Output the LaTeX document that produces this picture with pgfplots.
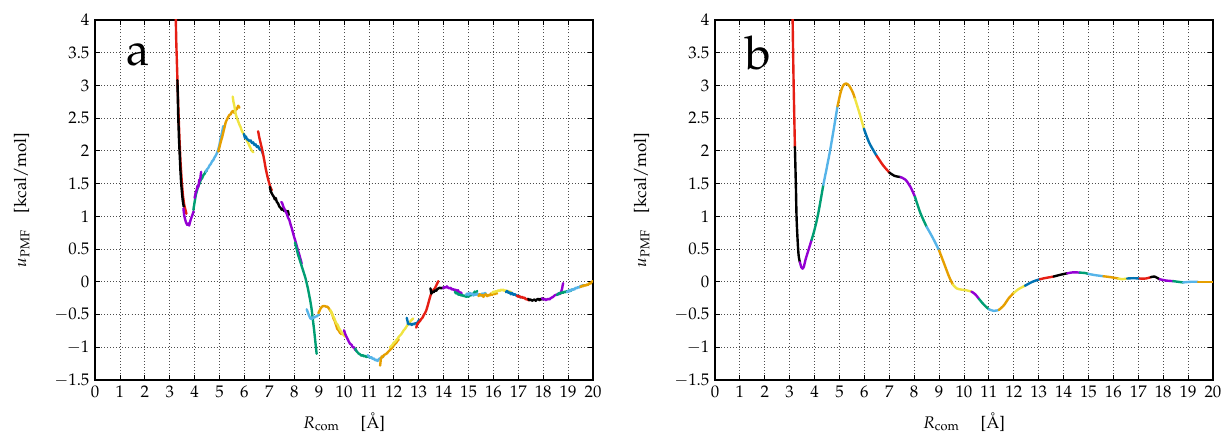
\documentclass[border=0pt]{standalone}
\usepackage[T1]{fontenc}
\usepackage{mathpazo}
\usepackage{pgfplots}
\pgfplotsset{compat=1.18}
\definecolor{cR}{RGB}{230,30,20}
\definecolor{cK}{RGB}{0,0,0}
\definecolor{cP}{RGB}{148,0,211}
\definecolor{cG}{RGB}{0,158,115}
\definecolor{cS}{RGB}{86,180,233}
\definecolor{cO}{RGB}{230,159,0}
\definecolor{cY}{RGB}{240,228,66}
\definecolor{cB}{RGB}{0,114,178}
\pgfplotsset{
  panel/.style={
    width=311.25pt, height=225pt, scale only axis,
    xmin=0, xmax=20, ymin=-1.5, ymax=4,
    xtick={0,1,2,3,4,5,6,7,8,9,10,11,12,13,14,15,16,17,18,19,20},
    ytick={-1.5,-1,-0.5,0,0.5,1,1.5,2,2.5,3,3.5,4},
    grid=major,
    grid style={black!70, line width=0.5pt, dash pattern=on 0.6pt off 1.3pt},
    tick align=inside, major tick length=3pt,
    axis line style={line width=0.9pt},
    every tick/.style={black, line width=0.5pt},
    tick label style={font=\fontsize{10.5}{12}\selectfont},
    label style={font=\fontsize{10.5}{12}\selectfont},
    xlabel={$R_{\mathrm{com}}$\quad\ [\AA]},
    ylabel={$u_{\mathrm{PMF}}$\quad [kcal/mol]},
    xlabel style={at={(axis description cs:0.5,-0.117)}, anchor=center},
    ylabel style={at={(axis description cs:-0.147,0.5)}, anchor=center},
    yticklabel style={/pgf/number format/.cd, fixed, precision=1},
    every axis plot/.append style={line width=1.5pt, mark=none, line join=round, line cap=round},
  }
}
\begin{document}
\begin{tikzpicture}
\path[use as bounding box] (-59.4pt,-35pt) rectangle (704.4pt,237.5pt);
% ---------------- panel a ----------------
\begin{axis}[panel, at={(0pt,0pt)}, anchor=south west]
\addplot[cR] coordinates {(3.22,4.5) (3.26,3.7) (3.31,3.08) (3.35,2.6) (3.39,2.2) (3.43,1.85) (3.48,1.55) (3.53,1.32) (3.58,1.18) (3.63,1.1) (3.67,1.04)};
\addplot[cK] coordinates {(3.31,3.08) (3.34,2.55) (3.37,2.2) (3.40,1.95) (3.43,1.7) (3.46,1.5) (3.49,1.37) (3.52,1.25) (3.56,1.15)};
\addplot[cP] coordinates {(3.55,1.12) (3.58,1.02) (3.62,0.95) (3.66,0.9) (3.7,0.87) (3.74,0.89) (3.78,0.86) (3.82,0.92) (3.87,0.98) (3.92,1.03) (3.96,1.08)};
\addplot[cG] coordinates {(3.95,1.1) (4.0,1.22) (4.05,1.33) (4.1,1.4) (4.15,1.47) (4.2,1.5) (4.25,1.56) (4.3,1.58) (4.35,1.63) (4.4,1.65) (4.45,1.69) (4.5,1.7)};
\addplot[cP] coordinates {(4.0,1.28) (4.04,1.36) (4.08,1.4) (4.12,1.47) (4.15,1.45) (4.19,1.56) (4.22,1.55) (4.26,1.68)};
\addplot[cS] coordinates {(4.45,1.68) (4.5,1.72) (4.55,1.74) (4.6,1.78) (4.65,1.8) (4.7,1.84) (4.75,1.86) (4.8,1.9) (4.85,1.93) (4.9,1.97) (4.95,2.02) (5.0,2.1) (5.05,2.2) (5.1,2.28) (5.15,2.38)};
\addplot[cO] coordinates {(4.95,1.99) (5.0,2.06) (5.05,2.14) (5.1,2.2) (5.15,2.28) (5.2,2.36) (5.25,2.44) (5.3,2.48) (5.35,2.52) (5.4,2.55) (5.45,2.56) (5.5,2.6) (5.55,2.61) (5.6,2.58) (5.65,2.63) (5.7,2.64) (5.75,2.69) (5.8,2.66)};
\addplot[cY] coordinates {(5.53,2.83) (5.56,2.75) (5.6,2.68) (5.63,2.6) (5.66,2.55) (5.7,2.5) (5.75,2.45) (5.8,2.4) (5.85,2.36) (5.9,2.3) (5.95,2.27) (6.0,2.24) (6.05,2.2) (6.1,2.16) (6.15,2.12) (6.2,2.08) (6.25,2.04) (6.3,2.0) (6.36,1.98)};
\addplot[cB] coordinates {(5.98,2.26) (6.02,2.2) (6.06,2.22) (6.1,2.18) (6.15,2.17) (6.2,2.15) (6.25,2.16) (6.3,2.12) (6.35,2.13) (6.4,2.09) (6.45,2.1) (6.5,2.06) (6.55,2.07) (6.6,2.03) (6.65,2.02) (6.7,2.0) (6.75,1.95)};
\addplot[cR] coordinates {(6.55,2.3) (6.6,2.2) (6.65,2.12) (6.7,2.04) (6.75,1.95) (6.8,1.85) (6.85,1.74) (6.9,1.65) (6.95,1.57) (7.0,1.5) (7.05,1.44) (7.1,1.4)};
\addplot[cK] coordinates {(7.02,1.45) (7.06,1.38) (7.1,1.35) (7.14,1.32) (7.18,1.3) (7.22,1.26) (7.26,1.28) (7.3,1.22) (7.35,1.2) (7.4,1.15) (7.45,1.13) (7.5,1.1) (7.55,1.12) (7.6,1.08) (7.65,1.09) (7.7,1.06) (7.75,1.08) (7.78,1.02)};
\addplot[cP] coordinates {(7.48,1.22) (7.52,1.2) (7.56,1.15) (7.6,1.12) (7.65,1.08) (7.7,1.04) (7.75,0.98) (7.8,0.95) (7.85,0.88) (7.9,0.82) (7.95,0.75) (8.0,0.68) (8.05,0.62) (8.1,0.55) (8.15,0.48) (8.2,0.42) (8.25,0.35) (8.3,0.28)};
\addplot[cG] coordinates {(8.03,0.6) (8.1,0.5) (8.15,0.42) (8.2,0.36) (8.25,0.3) (8.3,0.24) (8.35,0.18) (8.4,0.12) (8.45,0.06) (8.5,-0.02) (8.55,-0.1) (8.6,-0.2) (8.65,-0.3) (8.7,-0.42) (8.75,-0.58) (8.8,-0.74) (8.85,-0.92) (8.9,-1.1)};
\addplot[cS] coordinates {(8.5,-0.42) (8.55,-0.47) (8.6,-0.52) (8.65,-0.56) (8.7,-0.57) (8.75,-0.54) (8.8,-0.55) (8.85,-0.53) (8.9,-0.53) (8.95,-0.51) (9.0,-0.5)};
\addplot[cO] coordinates {(8.97,-0.48) (9.02,-0.44) (9.07,-0.4) (9.12,-0.38) (9.17,-0.37) (9.22,-0.37) (9.28,-0.38) (9.33,-0.38) (9.38,-0.4) (9.43,-0.43) (9.48,-0.46) (9.53,-0.5) (9.58,-0.56) (9.63,-0.6) (9.68,-0.66) (9.73,-0.72) (9.78,-0.74) (9.84,-0.78) (9.9,-0.8)};
\addplot[cY] coordinates {(9.45,-0.43) (9.5,-0.47) (9.55,-0.52) (9.6,-0.55) (9.65,-0.6) (9.7,-0.64) (9.75,-0.66) (9.8,-0.71) (9.85,-0.74) (9.9,-0.77) (9.95,-0.8) (10.0,-0.82) (10.05,-0.84)};
\addplot[cP] coordinates {(10.0,-0.74) (10.05,-0.8) (10.1,-0.84) (10.15,-0.88) (10.2,-0.92) (10.25,-0.95) (10.3,-0.96) (10.35,-1.0) (10.4,-1.0) (10.45,-1.04) (10.5,-1.05)};
\addplot[cG] coordinates {(10.45,-1.02) (10.5,-1.06) (10.55,-1.08) (10.6,-1.1) (10.65,-1.11) (10.7,-1.13) (10.75,-1.12) (10.8,-1.14) (10.85,-1.13) (10.9,-1.15) (10.95,-1.14) (11.0,-1.15) (11.05,-1.16)};
\addplot[cS] coordinates {(10.95,-1.12) (11.0,-1.14) (11.05,-1.16) (11.1,-1.15) (11.15,-1.18) (11.2,-1.17) (11.25,-1.2) (11.3,-1.19) (11.35,-1.21) (11.4,-1.18) (11.45,-1.17) (11.5,-1.16) (11.55,-1.15) (11.6,-1.13)};
\addplot[cO] coordinates {(11.45,-1.28) (11.48,-1.18) (11.52,-1.14) (11.56,-1.15) (11.6,-1.12) (11.65,-1.11) (11.7,-1.1) (11.75,-1.08) (11.8,-1.06) (11.85,-1.04) (11.9,-1.02) (11.95,-1.0) (12.0,-0.97) (12.05,-0.95) (12.1,-0.93) (12.15,-0.9) (12.2,-0.88)};
\addplot[cY] coordinates {(11.85,-1.0) (11.9,-0.98) (11.95,-0.96) (12.0,-0.93) (12.05,-0.92) (12.1,-0.89) (12.15,-0.87) (12.2,-0.84) (12.25,-0.82) (12.3,-0.8) (12.35,-0.77) (12.4,-0.74) (12.45,-0.72) (12.5,-0.69) (12.55,-0.66) (12.6,-0.64) (12.65,-0.61) (12.7,-0.59) (12.78,-0.56)};
\addplot[cB] coordinates {(12.52,-0.55) (12.55,-0.6) (12.57,-0.64) (12.62,-0.65) (12.67,-0.64) (12.72,-0.66) (12.77,-0.64) (12.82,-0.65) (12.87,-0.63) (12.92,-0.64) (12.97,-0.61) (13.02,-0.58)};
\addplot[cR] coordinates {(12.9,-0.7) (12.95,-0.64) (13.0,-0.62) (13.05,-0.6) (13.1,-0.57) (13.15,-0.55) (13.2,-0.51) (13.25,-0.48) (13.3,-0.44) (13.35,-0.38) (13.4,-0.31) (13.45,-0.24) (13.5,-0.18) (13.55,-0.15) (13.6,-0.12) (13.65,-0.1) (13.7,-0.06) (13.75,-0.02) (13.79,0.01)};
\addplot[cK] coordinates {(13.47,-0.1) (13.51,-0.18) (13.55,-0.15) (13.6,-0.16) (13.65,-0.13) (13.7,-0.14) (13.75,-0.11) (13.8,-0.1) (13.85,-0.09) (13.9,-0.1) (13.95,-0.09) (14.0,-0.1)};
\addplot[cP] coordinates {(13.98,-0.1) (14.03,-0.08) (14.08,-0.09) (14.13,-0.07) (14.18,-0.09) (14.23,-0.1) (14.28,-0.09) (14.33,-0.12) (14.38,-0.11) (14.43,-0.13) (14.48,-0.12) (14.53,-0.14) (14.58,-0.13) (14.63,-0.17) (14.68,-0.16) (14.73,-0.18)};
\addplot[cG] coordinates {(14.45,-0.15) (14.5,-0.18) (14.55,-0.17) (14.6,-0.2) (14.65,-0.19) (14.7,-0.21) (14.75,-0.2) (14.8,-0.22) (14.85,-0.21) (14.9,-0.23) (14.95,-0.22) (15.0,-0.23) (15.05,-0.2) (15.1,-0.21) (15.15,-0.18) (15.2,-0.19) (15.25,-0.15) (15.3,-0.17) (15.35,-0.14)};
\addplot[cS] coordinates {(14.9,-0.2) (14.95,-0.18) (15.0,-0.2) (15.05,-0.17) (15.1,-0.19) (15.15,-0.18) (15.2,-0.21) (15.25,-0.19) (15.3,-0.2) (15.35,-0.18) (15.4,-0.2) (15.45,-0.19) (15.5,-0.21) (15.55,-0.18) (15.6,-0.2) (15.65,-0.17) (15.7,-0.18)};
\addplot[cO] coordinates {(15.4,-0.22) (15.45,-0.19) (15.5,-0.21) (15.55,-0.2) (15.6,-0.23) (15.65,-0.2) (15.7,-0.19) (15.75,-0.22) (15.8,-0.2) (15.85,-0.21) (15.9,-0.18) (15.95,-0.2) (16.0,-0.18) (16.05,-0.19) (16.1,-0.17) (16.15,-0.18)};
\addplot[cY] coordinates {(15.95,-0.17) (16.0,-0.15) (16.05,-0.16) (16.1,-0.14) (16.15,-0.15) (16.2,-0.13) (16.25,-0.14) (16.3,-0.12) (16.35,-0.13) (16.4,-0.12) (16.45,-0.14) (16.5,-0.13) (16.55,-0.15) (16.6,-0.14) (16.65,-0.16) (16.7,-0.15)};
\addplot[cB] coordinates {(16.5,-0.16) (16.55,-0.14) (16.6,-0.17) (16.65,-0.16) (16.7,-0.19) (16.75,-0.17) (16.8,-0.2) (16.85,-0.19) (16.9,-0.2) (16.95,-0.22) (17.0,-0.21) (17.05,-0.23) (17.1,-0.24)};
\addplot[cR] coordinates {(16.95,-0.21) (17.0,-0.23) (17.05,-0.22) (17.1,-0.24) (17.15,-0.23) (17.2,-0.25) (17.25,-0.24) (17.3,-0.27) (17.35,-0.26) (17.4,-0.28) (17.45,-0.28)};
\addplot[cK] coordinates {(17.4,-0.26) (17.45,-0.28) (17.5,-0.27) (17.55,-0.29) (17.6,-0.28) (17.65,-0.27) (17.7,-0.29) (17.75,-0.27) (17.8,-0.26) (17.85,-0.28) (17.9,-0.26) (17.95,-0.27) (18.0,-0.25)};
\addplot[cP] coordinates {(17.95,-0.25) (18.0,-0.27) (18.05,-0.26) (18.1,-0.28) (18.15,-0.27) (18.2,-0.26) (18.25,-0.27) (18.3,-0.25) (18.35,-0.24) (18.4,-0.23) (18.45,-0.21) (18.5,-0.2) (18.55,-0.2) (18.6,-0.18) (18.65,-0.19) (18.7,-0.17) (18.75,-0.12) (18.8,-0.02)};
\addplot[cG] coordinates {(18.55,-0.2) (18.6,-0.19) (18.65,-0.17) (18.7,-0.18) (18.75,-0.16) (18.8,-0.17) (18.85,-0.15) (18.9,-0.16) (18.95,-0.14) (19.0,-0.15) (19.05,-0.13) (19.1,-0.14) (19.15,-0.12) (19.2,-0.12)};
\addplot[cS] coordinates {(18.95,-0.16) (19.0,-0.14) (19.05,-0.15) (19.1,-0.12) (19.15,-0.13) (19.2,-0.11) (19.25,-0.12) (19.3,-0.09) (19.35,-0.1) (19.4,-0.08) (19.45,-0.09) (19.5,-0.06) (19.55,-0.07) (19.6,-0.05)};
\addplot[cO] coordinates {(19.5,-0.08) (19.55,-0.06) (19.6,-0.07) (19.65,-0.05) (19.7,-0.06) (19.75,-0.04) (19.8,-0.05) (19.85,-0.02) (19.9,-0.03) (19.95,0.0) (20.0,0.01)};
\node[anchor=base west, font=\fontsize{29}{32}\selectfont] at (axis cs:1.05,3.3) {a};
\end{axis}
% ---------------- panel b ----------------
\begin{axis}[panel, at={(387.5pt,0pt)}, anchor=south west, every axis plot/.append style={smooth, tension=0.5}]
\addplot[cR] coordinates {(3.10,4.5) (3.15,3.2) (3.21,2.06)};
\addplot[cK] coordinates {(3.21,2.06) (3.25,1.45) (3.28,0.94) (3.35,0.44) (3.41,0.30)};
\addplot[cP] coordinates {(3.41,0.30) (3.47,0.22) (3.52,0.20) (3.57,0.23) (3.63,0.33) (3.75,0.48) (3.88,0.64)};
\addplot[cG] coordinates {(3.88,0.64) (4.0,0.8) (4.15,1.05) (4.35,1.48)};
\addplot[cS] coordinates {(4.35,1.48) (4.62,2.0) (4.92,2.68)};
\addplot[cO] coordinates {(4.92,2.68) (5.05,2.9) (5.15,3.0) (5.27,3.03) (5.4,2.99) (5.55,2.88) (5.62,2.8)};
\addplot[cY] coordinates {(5.62,2.8) (5.8,2.58) (5.98,2.34)};
\addplot[cB] coordinates {(5.98,2.34) (6.2,2.12) (6.5,1.92)};
\addplot[cR] coordinates {(6.5,1.92) (6.75,1.78) (7.0,1.67)};
\addplot[cK] coordinates {(7.0,1.67) (7.2,1.62) (7.45,1.60)};
\addplot[cP] coordinates {(7.45,1.60) (7.65,1.56) (7.85,1.45) (8.03,1.3)};
\addplot[cG] coordinates {(8.03,1.3) (8.25,1.05) (8.5,0.84)};
\addplot[cS] coordinates {(8.5,0.84) (8.75,0.67) (9.0,0.48)};
\addplot[cO] coordinates {(9.0,0.48) (9.2,0.28) (9.4,0.08) (9.55,-0.04)};
\addplot[cY] coordinates {(9.55,-0.04) (9.7,-0.1) (9.9,-0.12) (10.1,-0.13) (10.3,-0.15)};
\addplot[cP] coordinates {(10.3,-0.15) (10.45,-0.19) (10.6,-0.26)};
\addplot[cG] coordinates {(10.6,-0.26) (10.8,-0.35) (11.0,-0.42)};
\addplot[cS] coordinates {(11.0,-0.42) (11.2,-0.445) (11.4,-0.43)};
\addplot[cO] coordinates {(11.4,-0.43) (11.6,-0.36) (11.8,-0.25) (12.0,-0.17)};
\addplot[cY] coordinates {(12.0,-0.17) (12.2,-0.11) (12.45,-0.06)};
\addplot[cB] coordinates {(12.45,-0.06) (12.75,0.0) (13.05,0.04)};
\addplot[cR] coordinates {(13.05,0.04) (13.3,0.06) (13.6,0.08)};
\addplot[cK] coordinates {(13.6,0.08) (13.9,0.11) (14.15,0.13)};
\addplot[cP] coordinates {(14.15,0.13) (14.4,0.145) (14.65,0.14)};
\addplot[cG] coordinates {(14.65,0.14) (14.85,0.135) (15.0,0.12)};
\addplot[cS] coordinates {(15.0,0.12) (15.3,0.1) (15.6,0.085)};
\addplot[cO] coordinates {(15.6,0.085) (15.9,0.07) (16.2,0.05)};
\addplot[cY] coordinates {(16.2,0.05) (16.35,0.04) (16.55,0.05)};
\addplot[cB] coordinates {(16.55,0.05) (16.8,0.055) (17.05,0.05)};
\addplot[cR] coordinates {(17.05,0.05) (17.3,0.05) (17.5,0.07)};
\addplot[cK] coordinates {(17.5,0.07) (17.65,0.08) (17.85,0.04)};
\addplot[cP] coordinates {(17.85,0.04) (18.1,0.02) (18.4,0.01)};
\addplot[cG] coordinates {(18.4,0.01) (18.6,0.0) (18.8,-0.01)};
\addplot[cS] coordinates {(18.8,-0.01) (19.1,0.0) (19.4,0.0)};
\addplot[cO] coordinates {(19.4,0.0) (19.7,0.0) (20,0.0)};
\node[anchor=base west, font=\fontsize{29}{32}\selectfont] at (axis cs:1.0,3.25) {b};
\end{axis}
\end{tikzpicture}
\end{document}
